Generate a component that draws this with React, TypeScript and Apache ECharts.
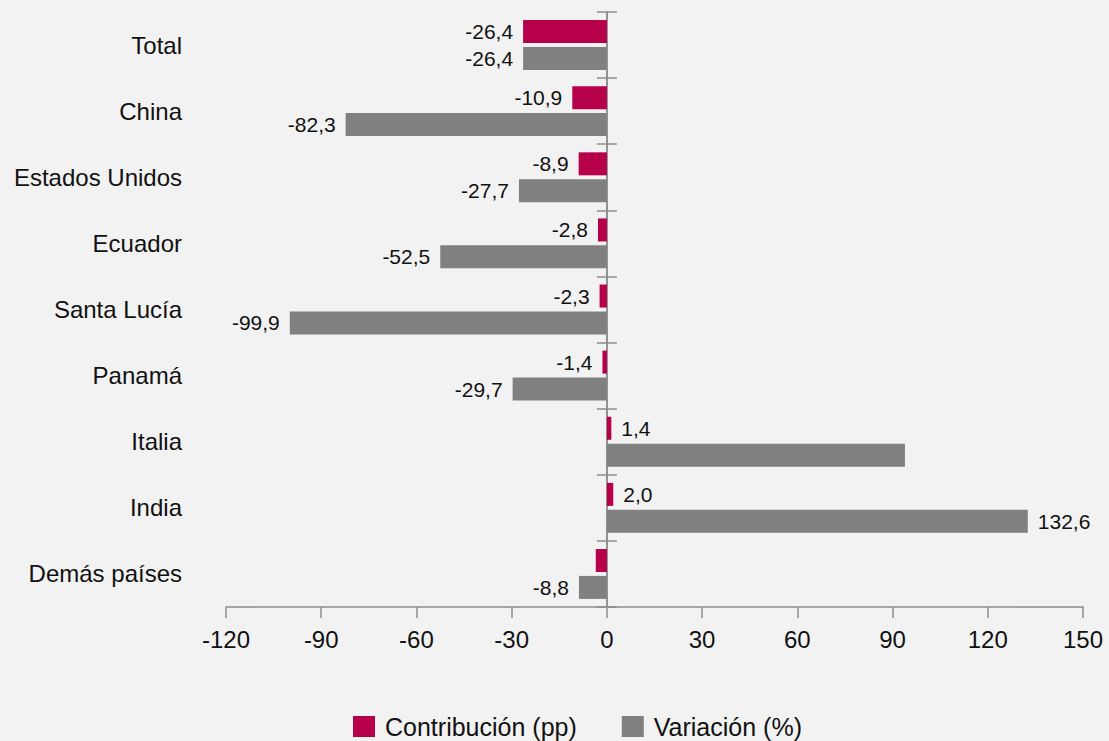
import React, { useEffect, useRef } from "react";
import * as echarts from "echarts";

const categories = [
  "Total",
  "China",
  "Estados Unidos",
  "Ecuador",
  "Santa Lucía",
  "Panamá",
  "Italia",
  "India",
  "Demás países",
];
const contribucion = [-26.4, -10.9, -8.9, -2.8, -2.3, -1.4, 1.4, 2.0, -3.5];
const variacion = [-26.4, -82.3, -27.7, -52.5, -99.9, -29.7, 93.9, 132.6, -8.8];
const contribucionSinEtiqueta = ["Demás países"];
const variacionSinEtiqueta = ["Italia"];
const xMin = -120;
const xMax = 150;
const xInterval = 30;
const seriesNames = ["Contribución (pp)", "Variación (%)"];

const FONT = "'Liberation Sans', Arial, sans-serif";
const fmt = (v: number) => v.toFixed(1).replace(".", ",");

function buildData(values: number[], hidden: string[]) {
  return values.map((v, i) => ({
    value: v,
    label: {
      show: !hidden.includes(categories[i]),
      position: v < 0 ? "left" : "right",
    },
  }));
}

export default function App() {
  const ref = useRef<HTMLDivElement>(null);
  useEffect(() => {
    document.body.style.margin = "0";
    const chart = echarts.init(ref.current!, null, { renderer: "svg" });
    const axisColor = "#8c8c8c";
    const yAxisBase = {
      type: "category",
      data: categories,
      inverse: true,
      axisLine: {
        show: true,
        onZero: true,
        onZeroAxisIndex: 0,
        lineStyle: { color: axisColor, width: 1.5 },
      },
      axisTick: { show: true, length: 10, lineStyle: { color: axisColor, width: 1.5 } },
      splitLine: { show: false },
    };
    const labelStyle = {
      fontSize: 21,
      fontFamily: FONT,
      color: "#111",
      distance: 10,
      formatter: (p: any) => fmt(p.value),
    };
    chart.setOption({
      animation: false,
      backgroundColor: "#f2f2f2",
      textStyle: { fontFamily: FONT },
      grid: {
        left: 226,
        right: 26,
        top: 12,
        bottom: 134,
        containLabel: false,
        outerBoundsMode: "none",
      },
      legend: {
        data: seriesNames,
        top: 714,
        left: 353,
        padding: 0,
        itemWidth: 22,
        itemHeight: 21,
        itemGap: 45,
        icon: "rect",
        textStyle: { fontSize: 25, fontFamily: FONT, color: "#111", padding: [0, 0, 0, 5] },
      },
      xAxis: {
        type: "value",
        min: xMin,
        max: xMax,
        interval: xInterval,
        axisLine: { show: true, lineStyle: { color: axisColor, width: 1.5 } },
        axisTick: { show: true, length: 11, lineStyle: { color: axisColor, width: 1.5 } },
        splitLine: { show: false },
        axisLabel: { fontSize: 24, fontFamily: FONT, color: "#111", margin: 20 },
      },
      yAxis: [
        {
          ...yAxisBase,
          position: "left",
          axisLabel: {
            fontSize: 24,
            fontFamily: FONT,
            color: "#111",
            margin: 44,
            align: "right",
          },
        },
        {
          ...yAxisBase,
          position: "right",
          axisLabel: { show: false },
        },
      ],
      series: [
        {
          name: seriesNames[0],
          type: "bar",
          yAxisIndex: 0,
          barWidth: 23,
          barGap: "17%",
          itemStyle: { color: "#b7004a" },
          label: labelStyle,
          data: buildData(contribucion, contribucionSinEtiqueta),
        },
        {
          name: seriesNames[1],
          type: "bar",
          yAxisIndex: 0,
          barWidth: 23,
          barGap: "17%",
          itemStyle: { color: "#808080" },
          label: labelStyle,
          data: buildData(variacion, variacionSinEtiqueta),
        },
      ],
    });
    return () => chart.dispose();
  }, []);
  return <div ref={ref} style={{ width: 1109, height: 741 }} />;
}
